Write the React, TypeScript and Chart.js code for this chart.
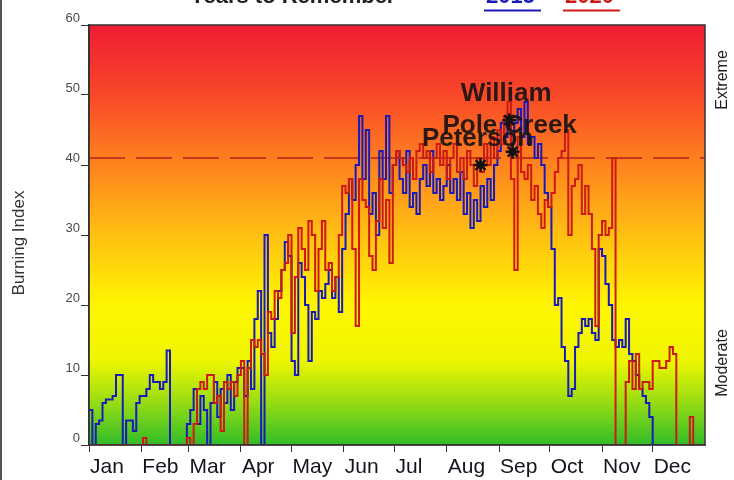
import { useEffect, useRef } from 'react';
import { Chart, registerables } from 'chart.js';
Chart.register(...registerables);

const FONT = 'Arial, "Liberation Sans", sans-serif';

const months = ['Jan', 'Feb', 'Mar', 'Apr', 'May', 'Jun', 'Jul', 'Aug', 'Sep', 'Oct', 'Nov', 'Dec'];
const monthStartDays = [0, 31, 59, 90, 120, 151, 181, 212, 243, 273, 304, 334];
const yTicks = [0, 10, 20, 30, 40, 50, 60];
const sampleStepDays = 2;

// Burning Index, one value every 2 days (day 0, 2, 4, ... 364)
const bi2015 = [
  // Jan
  5, 0, 3, 3.5, 6, 6.5, 6.5, 7, 10, 10, 0, 3.5, 3.5, 2, 6, 7,
  // Feb
  7, 8, 10, 9, 9, 8, 9, 13.5, 0, 0, 0, 0, 0, 3,
  // Mar
  5, 8, 3, 7, 5, 0, 6, 9, 4, 8, 6, 10, 5, 9, 11,
  // Apr
  11, 7, 12, 8, 18, 22, 0, 30, 16, 14, 18, 22, 25, 29, 27,
  // May
  12, 10, 26, 24, 20, 12, 19, 18, 22, 21, 23, 25, 21, 24, 19,
  // Jun
  28, 33, 38, 35, 40, 47, 38, 45, 33, 36, 30, 42, 38, 47, 36,
  // Jul
  40, 42, 38, 36, 42, 34, 36, 33, 38, 40, 37, 42, 36, 38, 35,
  // Aug
  37, 40, 36, 38, 35, 39, 33, 36, 31, 35, 32, 37, 34, 38, 35, 40,
  // Sep
  42, 46, 44, 47, 43, 46, 48, 44, 49, 43, 44, 41, 43, 40, 36,
  // Oct
  34, 28, 20, 21, 14, 12, 7, 8, 14, 16, 18, 17, 18, 16, 15,
  // Nov
  28, 27, 23, 20, 15, 14, 15, 14, 18, 13, 12, 10, 8, 7, 6,
  // Dec
  4, 0, 0, 0, 0, 0, 0, 0, 0, 0, 0, 0, 0, 0, 0, 0, 0,
];

const bi2020 = [
  // Jan
  0, 0, 0, 0, 0, 0, 0, 0, 0, 0, 0, 0, 0, 0, 0, 0,
  // Feb
  1, 0, 0, 0, 0, 0, 0, 0, 0, 0, 0, 0, 0, 1,
  // Mar
  0, 3, 8, 9, 8, 10, 10, 6, 7, 2, 9, 8, 9, 7, 10,
  // Apr
  12, 0, 11, 15, 14, 15, 13, 10, 19, 18, 22, 21, 25, 26, 30,
  // May
  16, 24, 31, 28, 25, 32, 30, 22, 28, 32, 25, 26, 22, 24, 30,
  // Jun
  37, 36, 38, 28, 17, 38, 35, 34, 27, 25, 32, 38, 31, 35, 26,
  // Jul
  40, 42, 41, 40, 39, 41, 38, 42, 43, 41, 42, 39, 41, 43, 40,
  // Aug
  42, 38, 41, 43, 39, 41, 38, 42, 40, 37, 41, 39, 43, 40, 44, 41,
  // Sep
  45, 43, 47, 49, 38, 25, 44, 39, 38, 40, 35, 37, 33, 31, 35,
  // Oct
  34, 36, 39, 41, 42, 45, 30, 37, 38, 40, 33, 37, 33, 28, 17,
  // Nov
  30, 32, 30, 31, 41, 0, 0, 0, 9, 12, 8, 13, 8, 9, 9,
  // Dec
  8, 12, 12, 11, 11, 12, 14, 13, 0, 0, 0, 0, 4, 0, 0, 0, 0,
];

const threshold = 41;

const fireNames = ['William', 'Pole Creek', 'Peterson'];
const fireDays = [249, 251, 232];
const fireValues = [46.4, 41.9, 40];

const titleText = 'Years to Remember';
const seriesNames = ['2015', '2020'];
const seriesColors = ['#1a1ab8', '#cc1a14'];

function toPoints(values: number[]) {
  return values.map((v, i) => ({ x: i * sampleStepDays, y: v }));
}

export default function App() {
  const ref = useRef<HTMLCanvasElement>(null);

  useEffect(() => {
    const canvas = ref.current;
    if (!canvas) return;

    const decor = {
      id: 'decor',
      beforeDraw(chart: any) {
        const { ctx, chartArea: a } = chart;
        ctx.save();
        ctx.fillStyle = '#ffffff';
        ctx.fillRect(0, 0, chart.width, chart.height);
        const g = ctx.createLinearGradient(0, a.top, 0, a.bottom);
        g.addColorStop(0, 'rgb(238,28,52)');
        g.addColorStop(0.167, 'rgb(248,72,40)');
        g.addColorStop(0.333, 'rgb(255,132,30)');
        g.addColorStop(0.5, 'rgb(255,192,18)');
        g.addColorStop(0.667, 'rgb(255,246,0)');
        g.addColorStop(0.8, 'rgb(238,246,0)');
        g.addColorStop(0.9, 'rgb(150,220,20)');
        g.addColorStop(1, 'rgb(48,188,40)');
        ctx.fillStyle = g;
        ctx.fillRect(a.left, a.top, a.right - a.left, a.bottom - a.top);
        ctx.restore();
      },
      afterDatasetsDraw(chart: any) {
        const { ctx } = chart;
        const xs = chart.scales.x;
        const ys = chart.scales.y;
        ctx.save();
        ctx.font = 'bold 26px ' + FONT;
        ctx.fillStyle = 'rgba(25,20,20,0.92)';
        ctx.textAlign = 'center';
        ctx.textBaseline = 'middle';
        fireNames.forEach((n, i) => {
          const px = xs.getPixelForValue(fireDays[i]);
          const py = ys.getPixelForValue(fireValues[i]);
          ctx.fillText(n, px - 3, py - 26);
        });
        ctx.restore();
      },
      afterDraw(chart: any) {
        const { ctx, chartArea: a } = chart;
        ctx.save();
        ctx.strokeStyle = '#333';
        ctx.lineWidth = 1.5;
        ctx.strokeRect(a.left, a.top, a.right - a.left, a.bottom - a.top);
        ctx.fillStyle = '#555';
        ctx.fillRect(0, 0, 2, chart.height);

        // title (cut off at the top)
        ctx.font = 'bold 22px ' + FONT;
        ctx.textBaseline = 'alphabetic';
        ctx.textAlign = 'left';
        ctx.fillStyle = '#222';
        ctx.fillText(titleText, 190, 3);
        const sx = [486, 565];
        seriesNames.forEach((s, i) => {
          ctx.fillStyle = seriesColors[i];
          ctx.fillText(s, sx[i], 3);
          const w = ctx.measureText(s).width;
          ctx.strokeStyle = seriesColors[i];
          ctx.lineWidth = 2;
          ctx.beginPath();
          ctx.moveTo(sx[i] - 2, 10.5);
          ctx.lineTo(sx[i] + w + 6, 10.5);
          ctx.stroke();
        });

        // axis titles
        ctx.fillStyle = '#333';
        ctx.font = '17px ' + FONT;
        ctx.textAlign = 'center';
        ctx.textBaseline = 'middle';
        ctx.translate(19, 243);
        ctx.rotate(-Math.PI / 2);
        ctx.fillText('Burning Index', 0, 0);
        ctx.restore();

        ctx.save();
        ctx.fillStyle = '#222';
        ctx.font = '16px ' + FONT;
        ctx.textAlign = 'center';
        ctx.textBaseline = 'middle';
        ctx.translate(723, 80);
        ctx.rotate(-Math.PI / 2);
        ctx.fillText('Extreme', 0, 0);
        ctx.restore();

        ctx.save();
        ctx.fillStyle = '#222';
        ctx.font = '16px ' + FONT;
        ctx.textAlign = 'center';
        ctx.textBaseline = 'middle';
        ctx.translate(723, 363);
        ctx.rotate(-Math.PI / 2);
        ctx.fillText('Moderate', 0, 0);
        ctx.restore();
      },
    };

    const chart = new Chart(canvas, {
      type: 'line',
      data: {
        datasets: [
          {
            label: 'threshold',
            data: [{ x: 0, y: threshold }, { x: 365, y: threshold }],
            borderColor: '#c8361c',
            borderWidth: 2,
            borderDash: [36, 11],
            pointRadius: 0,
            order: 3,
          },
          {
            label: seriesNames[0],
            data: toPoints(bi2015),
            borderColor: seriesColors[0],
            borderWidth: 2,
            pointRadius: 0,
            stepped: true,
            order: 2,
          },
          {
            label: seriesNames[1],
            data: toPoints(bi2020),
            borderColor: seriesColors[1],
            borderWidth: 2,
            pointRadius: 0,
            stepped: true,
            order: 1,
          },
          {
            label: 'fires',
            type: 'scatter',
            data: fireDays.map((d, i) => ({ x: d, y: fireValues[i] })),
            pointStyle: 'star',
            pointRadius: 7,
            pointBorderWidth: 2.5,
            borderColor: '#111',
            backgroundColor: '#111',
            showLine: false,
            order: 0,
          } as any,
        ],
      },
      options: {
        animation: false,
        responsive: false,
        devicePixelRatio: 1,
        events: [],
        layout: { padding: { left: 0, top: 25, right: 29, bottom: 0 } },
        plugins: {
          legend: { display: false },
          tooltip: { enabled: false },
          title: { display: false },
        },
        scales: {
          x: {
            type: 'linear',
            min: 0,
            max: 365,
            afterBuildTicks: (scale: any) => {
              scale.ticks = monthStartDays.map((v) => ({ value: v }));
            },
            afterFit: (scale: any) => {
              scale.height = 35;
            },
            grid: {
              drawOnChartArea: false,
              drawTicks: true,
              tickLength: 7,
              color: '#333',
            },
            border: { display: true, color: '#333', width: 1.5 },
            ticks: {
              autoSkip: false,
              maxRotation: 0,
              align: 'start',
              labelOffset: 1,
              padding: 3,
              color: '#14141c',
              font: { family: FONT, size: 21 },
              callback: (v: any) => {
                const idx = monthStartDays.indexOf(Number(v));
                return idx >= 0 ? months[idx] : '';
              },
            },
          },
          y: {
            type: 'linear',
            min: 0,
            max: 60,
            afterBuildTicks: (scale: any) => {
              scale.ticks = yTicks.map((v) => ({ value: v }));
            },
            afterFit: (scale: any) => {
              scale.width = 89;
            },
            grid: {
              drawOnChartArea: false,
              drawTicks: true,
              tickLength: 8,
              color: '#333',
            },
            border: { display: true, color: '#333', width: 1.5 },
            ticks: {
              padding: 1,
              labelOffset: -7,
              color: '#4a4a4a',
              font: { family: FONT, size: 13 },
            },
          },
        },
      } as any,
      plugins: [decor],
    });

    return () => chart.destroy();
  }, []);

  return (
    <div style={{ position: 'absolute', left: 0, top: 0, width: 734, height: 480, background: '#fff' }}>
      <canvas ref={ref} width={734} height={480} style={{ display: 'block', width: 734, height: 480 }} />
    </div>
  );
}
